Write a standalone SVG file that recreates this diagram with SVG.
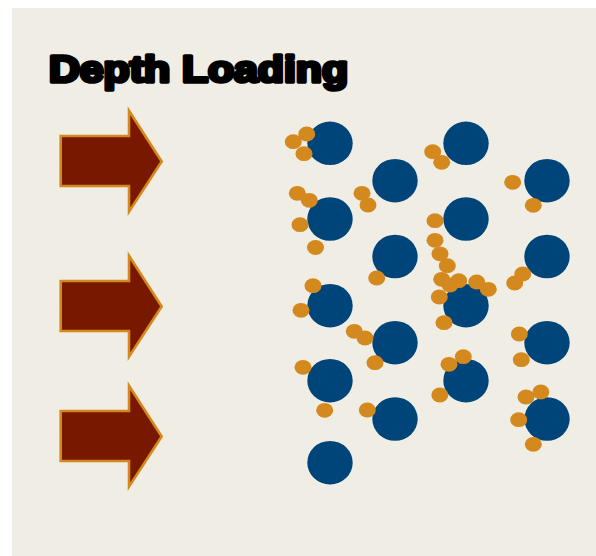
<svg xmlns="http://www.w3.org/2000/svg" width="596" height="556" viewBox="0 0 596 556">
  <defs>
    <style>
      .title { font-family: "Liberation Sans", Arial, sans-serif; font-weight: 900; font-size: 36px; fill: #000; stroke: #000; stroke-width: 3.6; stroke-linejoin: round; }
      .arrow { fill: #781800; stroke: #d4891e; stroke-width: 2.6; stroke-linejoin: miter; }
      .big { fill: #00457a; }
      .small { fill: #d4891e; }
    </style>
    <path id="arrowShape" d="M60.7,136 H129 V110.7 L161.7,161.5 L129,211.7 V186 H60.7 Z"/>
    <ellipse id="b" rx="22.7" ry="21.8"/>
    <ellipse id="s" rx="8.5" ry="7.4"/>
  </defs>

  <rect x="0" y="0" width="596" height="556" fill="#ffffff"/>
  <rect x="12" y="8" width="584" height="548" fill="#f0ede5"/>

  <text class="title" x="49" y="82" textLength="299" lengthAdjust="spacingAndGlyphs">Depth Loading</text>

  <!-- incoming arrows -->
  <g id="arrow1"><use href="#arrowShape" class="arrow"/></g>
  <g id="arrow2"><use href="#arrowShape" class="arrow" y="145"/></g>
  <g id="arrow3"><use href="#arrowShape" class="arrow" y="275"/></g>

  <!-- large particles -->
  <g id="particles" class="big">
    <use href="#b" x="330" y="143.3"/>
    <use href="#b" x="330" y="219"/>
    <use href="#b" x="330" y="305.7"/>
    <use href="#b" x="330" y="380.7"/>
    <use href="#b" x="330" y="462.7"/>
    <use href="#b" x="395" y="180.7"/>
    <use href="#b" x="395" y="256.5"/>
    <use href="#b" x="395" y="342.7"/>
    <use href="#b" x="395" y="419"/>
    <use href="#b" x="466" y="143.3"/>
    <use href="#b" x="466" y="219"/>
    <use href="#b" x="466" y="305.7"/>
    <use href="#b" x="466" y="380.7"/>
    <use href="#b" x="547" y="180.7"/>
    <use href="#b" x="547" y="256.5"/>
    <use href="#b" x="547" y="342.7"/>
    <use href="#b" x="547" y="419"/>
  </g>

  <!-- adsorbed small particles -->
  <g id="adsorbate" class="small">
    <use href="#s" x="293.3" y="141.7"/>
    <use href="#s" x="306.7" y="134"/>
    <use href="#s" x="304" y="153.7"/>
    <use href="#s" x="432.7" y="151.7"/>
    <use href="#s" x="441.7" y="162.3"/>
    <use href="#s" x="512.7" y="182.3"/>
    <use href="#s" x="533.3" y="205.3"/>
    <use href="#s" x="297.3" y="193.3"/>
    <use href="#s" x="309.3" y="200.3"/>
    <use href="#s" x="300" y="224.7"/>
    <use href="#s" x="315.5" y="247.5"/>
    <use href="#s" x="362" y="193.3"/>
    <use href="#s" x="368" y="205"/>
    <use href="#s" x="435" y="220.7"/>
    <use href="#s" x="435" y="240.3"/>
    <use href="#s" x="440" y="253.8"/>
    <use href="#s" x="447.3" y="265.7"/>
    <use href="#s" x="441.7" y="279.3"/>
    <use href="#s" x="458.7" y="280.7"/>
    <use href="#s" x="450" y="285"/>
    <use href="#s" x="476.7" y="282"/>
    <use href="#s" x="488.3" y="289.3"/>
    <use href="#s" x="439.3" y="297"/>
    <use href="#s" x="444" y="322.7"/>
    <use href="#s" x="376.7" y="278"/>
    <use href="#s" x="313" y="285.7"/>
    <use href="#s" x="301" y="310.3"/>
    <use href="#s" x="354.3" y="331.3"/>
    <use href="#s" x="365" y="338"/>
    <use href="#s" x="375" y="362.7"/>
    <use href="#s" x="522.7" y="274"/>
    <use href="#s" x="514.7" y="283"/>
    <use href="#s" x="519.3" y="334"/>
    <use href="#s" x="521.3" y="359.7"/>
    <use href="#s" x="449" y="364.3"/>
    <use href="#s" x="463.3" y="356.7"/>
    <use href="#s" x="303" y="367.3"/>
    <use href="#s" x="439.8" y="395"/>
    <use href="#s" x="526" y="397"/>
    <use href="#s" x="540.8" y="392"/>
    <use href="#s" x="324.7" y="410.3"/>
    <use href="#s" x="367.3" y="410"/>
    <use href="#s" x="518.7" y="419.7"/>
    <use href="#s" x="533.3" y="444.3"/>
  </g>
</svg>
